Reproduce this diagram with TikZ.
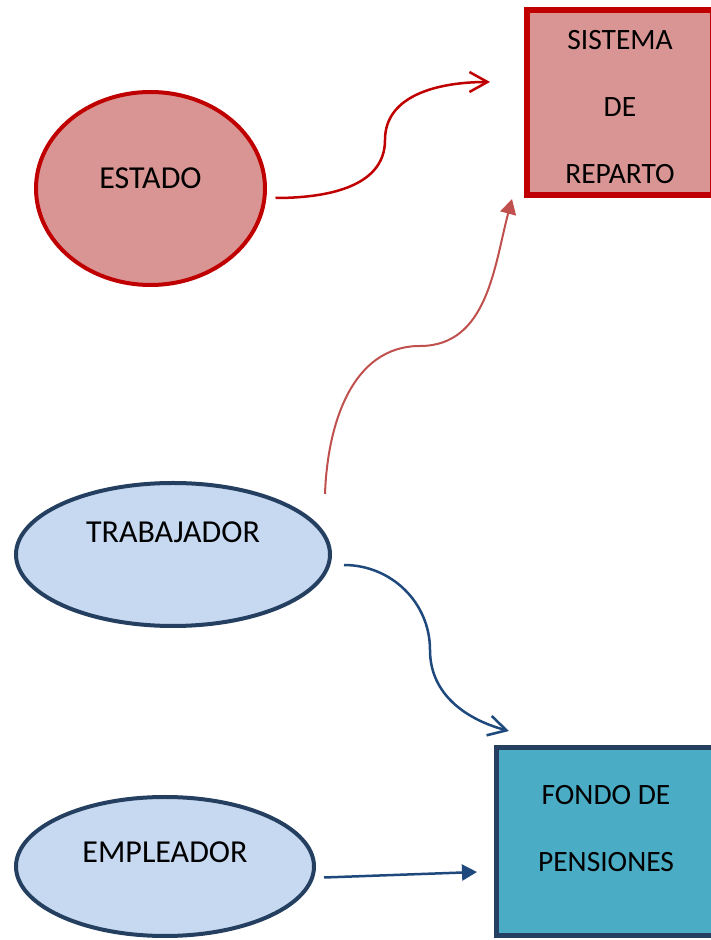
\documentclass[tikz,border=0pt]{standalone}
\usepackage{fontspec}
\setmainfont{Carlito}
\usetikzlibrary{shapes.geometric,arrows.meta}
\definecolor{rojo}{HTML}{C00000}
\definecolor{rosa}{HTML}{D99594}
\definecolor{rojoclaro}{HTML}{C0504D}
\definecolor{azul}{HTML}{243F60}
\definecolor{celeste}{HTML}{C6D9F1}
\definecolor{turquesa}{HTML}{4BACC6}
\definecolor{azulflecha}{HTML}{1F497D}

\begin{document}
\begin{tikzpicture}[x=1pt,y=1pt,
    every node/.style={font=\fontsize{29.5}{67}\selectfont},
    every label/.style={font=\fontsize{32}{67}\selectfont},
    elipse/.style={ellipse,draw,line width=4pt,inner sep=0pt},
    caja/.style={rectangle,draw,line width=5pt,inner sep=0pt},
    textocaja/.style={font=\fontsize{29.5}{67}\selectfont,align=center},
    flecha/.style={line width=2.5pt}]
    \useasboundingbox (0,0) rectangle (710,940);

    \node[elipse,draw=rojo,fill=rosa,minimum width=229,minimum height=193,
      label={[yshift=10pt]center:ESTADO}] (estado) at (150.5,751.5) {};
    \node[caja,draw=rojo,line width=6pt,fill=rosa,minimum width=186,minimum height=185,
      label={[textocaja,yshift=-4.5pt]center:SISTEMA\\DE\\REPARTO}] (sistema) at (620,837.5) {};
    \node[elipse,draw=azul,fill=celeste,minimum width=314,minimum height=143,
      label={[yshift=22.5pt]center:TRABAJADOR}] (trabajador) at (173,385.5) {};
    \node[elipse,draw=azul,fill=celeste,minimum width=298,minimum height=139,
      label={[yshift=14.5pt]center:EMPLEADOR}] (empleador) at (165,73.5) {};
    \node[caja,draw=azul,fill=turquesa,minimum width=219,minimum height=188,
      label={[textocaja,yshift=13pt]center:FONDO DE\\PENSIONES}] (fondo) at (606,98.5) {};

    \coordinate (codo1) at (385,800);
    \coordinate (codo2) at (420,594);
    \coordinate (codo3) at (430,290);

    \draw[flecha,rojo,-{Straight Barb[length=18pt,width=20pt]}] ([xshift=8.5pt,yshift=-9.5pt]estado.east)
      to[out=0,in=-90] (codo1) to[out=90,in=180] ([xshift=-34pt,yshift=20.5pt]sistema.west);
    \draw[flecha,line width=2pt,rojoclaro,-{Triangle[length=15pt,width=16pt]}] ([xshift=152pt,yshift=60.5pt]trabajador.center)
      to[out=88,in=180] (codo2) to[out=0,in=255] ([xshift=-12pt,yshift=-1pt]sistema.south west);
    \draw[flecha,azulflecha,-{Straight Barb[length=18pt,width=20pt]}] ([xshift=12pt,yshift=-10.5pt]trabajador.east)
      to[out=0,in=90] (codo3) to[out=-90,in=165] ([xshift=15pt,yshift=14pt]fondo.north west);
    \draw[flecha,azulflecha,-{Triangle[length=15pt,width=16pt]}] ([xshift=8pt,yshift=-11pt]empleador.east)
      -- ([xshift=-17pt,yshift=-30.5pt]fondo.west);
  \end{tikzpicture}
\end{document}
